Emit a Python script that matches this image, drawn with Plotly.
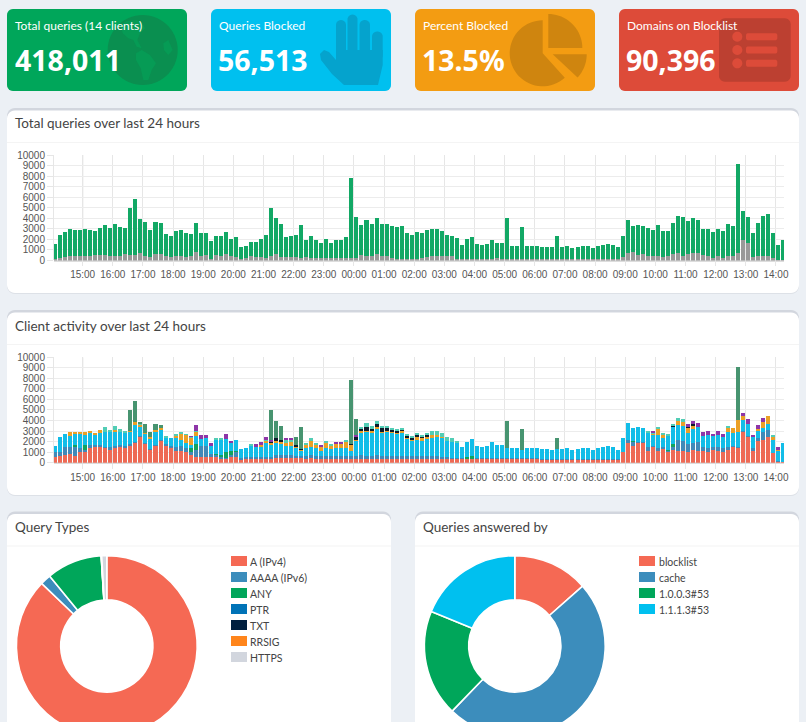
import math
import pandas as pd
import plotly.graph_objects as go

W, H = 806, 760

# ---------- data ----------
STAT_TITLES = ["Total queries (14 clients)", "Queries Blocked", "Percent Blocked", "Domains on Blocklist"]
STAT_VALUES = ["418,011", "56,513", "13.5%", "90,396"]
STAT_COLORS = ["#00a65a", "#00c0ef", "#f39c12", "#dd4b39"]

TOTAL = [
    1600,2400,2700,2950,2850,2900,2950,2900,2750,3100,
    3350,3100,3450,3200,3050,5000,5850,3900,3650,2900,
    3650,3550,2500,2350,2750,2850,2650,2500,3550,2650,
    2600,1850,2350,2300,2700,2050,2200,1300,1400,1800,
    1750,2000,2400,5000,4000,3450,2250,2300,2400,3350,
    1900,2300,1900,1700,2050,1700,1950,1950,2200,7800,
    4100,3400,3800,3500,4000,3500,3500,3300,3150,3300,
    2650,2450,2700,2600,2850,3000,3000,2800,2450,2350,
    2100,1500,2000,2250,1600,1500,1600,1950,1700,1700,
    4000,1400,1350,3150,1400,1350,1350,1300,1300,1250,
    2350,1300,1400,1200,1300,1400,1400,1200,1350,1450,
    1550,1450,1250,2350,3800,3250,3400,3300,3050,2900,
    3400,2750,2750,3600,4250,4100,3700,4000,3800,2950,
    3000,2700,3000,2750,3500,3300,9100,4700,4100,2650,
    3600,4200,4400,2650,1450,1900,
]
BLOCKED = [
    100,250,350,400,400,400,450,450,500,550,
    500,450,450,450,650,500,500,750,450,350,
    600,650,400,350,450,450,300,400,850,450,
    550,150,500,450,650,450,300,150,250,400,
    350,300,250,400,650,350,350,350,350,200,
    350,200,200,200,200,200,200,200,200,200,
    250,500,450,400,600,400,400,200,150,150,
    150,150,150,200,350,450,450,400,400,400,
    150,100,100,100,100,100,100,100,200,100,
    100,100,100,100,100,100,100,100,100,100,
    100,100,100,100,100,100,100,100,100,100,
    100,100,100,350,750,800,500,650,400,400,
    400,350,400,650,700,400,600,750,700,550,
    450,200,400,200,450,400,700,1900,1700,300,
    450,450,450,200,50,50,
]
C_RED = [
    500,600,750,800,650,1050,1000,1350,1450,1450,
    1400,1200,1350,1500,1400,1600,1900,2450,1800,1200,
    1600,2050,1600,1400,1150,1100,1000,700,550,550,
    550,550,550,350,350,550,500,300,350,400,
    400,400,400,350,400,400,400,400,400,400,
    350,400,350,350,350,350,350,350,350,350,
    350,350,350,350,350,350,350,350,350,350,
    350,350,350,350,350,350,350,350,350,350,
    350,350,350,350,350,350,350,350,350,350,
    400,350,350,350,350,350,350,300,300,300,
    300,300,300,300,300,300,300,300,300,300,
    300,300,300,1000,1850,1600,1850,1850,1150,1500,
    1100,1350,1000,1200,1150,1150,1000,1200,1150,1150,
    1000,1250,1150,1050,1250,1500,1400,2900,2450,1100,
    2050,2200,2450,900,100,50,
]
C_BLUE = [
    500,400,700,700,800,300,250,300,250,250,
    100,300,200,150,150,150,100,100,100,100,
    100,100,150,150,350,450,350,350,700,1050,
    1050,300,200,200,100,150,500,100,200,100,
    150,150,100,150,300,300,300,300,250,250,
    300,350,300,300,300,250,300,300,250,300,
    300,350,300,300,350,300,300,250,250,300,
    250,250,250,250,250,250,250,200,150,100,
    100,50,0,0,50,50,50,50,50,50,
    50,50,50,50,50,50,50,50,50,50,
    50,50,50,50,50,50,50,50,50,50,
    50,50,50,50,300,400,150,100,300,100,
    300,100,100,300,1000,900,800,650,850,300,
    400,200,300,300,200,100,50,100,100,300,
    300,700,650,50,50,50,
]
C_GREEN = [
    0,0,0,0,200,0,400,0,0,0,
    0,0,0,0,0,0,0,0,0,0,
    0,0,0,0,0,0,0,300,500,0,
    0,0,100,150,600,400,100,0,0,0,
    0,0,0,0,0,0,0,0,0,0,
    0,0,0,0,0,0,0,0,0,0,
    0,0,0,0,0,0,0,0,0,0,
    0,0,0,0,0,0,0,0,0,0,
    0,0,200,300,0,0,0,0,0,0,
    0,0,0,0,0,0,0,0,0,0,
    0,0,0,0,0,0,0,0,0,0,
    0,0,0,0,0,100,0,0,0,0,
    0,0,150,300,0,0,0,0,0,0,
    0,0,0,0,0,0,0,0,0,0,
    0,0,0,0,0,0,
]
C_CYAN = [
    600,1400,1250,1050,1100,1350,950,1150,950,1100,
    1450,1400,1400,1250,1250,1150,1550,900,800,950,
    1200,950,650,800,900,650,550,300,800,650,
    700,700,1350,1500,1200,800,1100,900,850,1100,
    900,1000,1350,1200,1200,1100,900,850,700,450,
    750,750,700,500,700,700,750,750,800,450,
    1450,2150,2250,2200,2550,2200,2250,2250,2100,2200,
    1700,1450,1600,1500,1650,1750,1800,1850,1600,1550,
    1400,1100,1450,1600,1200,1100,1200,1550,1300,1300,
    950,1000,950,850,1000,950,950,950,950,900,
    950,950,1050,850,950,1050,1050,850,1000,1100,
    1200,1100,900,1300,1650,1150,1400,1350,1400,1000,
    1200,900,1300,1600,1450,1400,1050,1300,1400,1100,
    1200,1100,1150,1100,1500,1250,1500,1050,1150,1000,
    650,400,550,1250,1000,1800,
]
C_ORANGE = [
    0,0,0,350,100,200,350,100,100,300,
    0,0,150,0,0,100,300,100,100,150,
    200,150,0,0,150,500,700,700,350,0,
    0,0,0,0,0,0,0,0,0,0,
    0,150,200,200,200,150,300,400,200,100,
    300,600,350,400,500,300,350,350,600,600,
    100,150,150,150,100,100,100,100,150,150,
    100,150,300,250,250,250,200,50,0,0,
    0,0,0,0,0,0,0,0,0,0,
    0,0,0,0,0,0,0,0,0,0,
    0,0,0,0,0,0,0,0,0,0,
    0,0,0,0,0,0,0,0,0,100,
    600,300,0,0,400,450,500,300,0,0,
    0,0,0,0,300,450,1100,350,0,0,
    150,600,750,300,100,0,
]
C_BLACK = [
    0,0,0,0,0,0,0,0,0,0,
    0,0,0,0,0,0,0,0,0,0,
    0,0,0,0,0,0,0,0,0,0,
    0,0,0,0,0,0,0,0,0,0,
    0,0,0,100,200,200,0,0,100,100,
    0,0,0,0,0,0,0,0,0,100,
    300,200,300,200,300,350,250,150,150,100,
    150,200,100,150,150,0,0,0,0,0,
    0,0,0,0,0,0,0,0,0,0,
    0,0,0,0,0,0,0,0,0,0,
    0,0,0,0,0,0,0,0,0,0,
    0,0,0,0,0,0,0,0,0,0,
    0,0,0,100,0,0,50,200,0,0,
    0,0,0,0,0,0,0,0,0,0,
    0,0,0,0,0,0,
]
C_TEAL = [
    0,0,0,0,0,0,0,0,0,0,
    400,200,350,300,250,0,0,100,0,0,
    0,0,100,0,200,150,50,100,150,0,
    0,0,150,100,0,0,0,0,0,200,
    0,0,100,0,0,0,250,250,0,0,
    200,200,200,0,200,100,0,0,200,0,
    0,200,450,300,350,200,250,200,150,200,
    100,50,100,100,200,400,400,350,350,350,
    250,0,0,0,0,0,0,0,0,0,
    0,0,0,0,0,0,0,0,0,0,
    0,0,0,0,0,0,0,0,0,0,
    0,0,0,0,0,0,0,0,200,100,
    200,100,200,100,250,200,0,0,0,0,
    0,0,0,0,250,0,0,0,0,0,
    0,0,0,150,0,0,
]
C_PURPLE = [
    0,0,0,0,0,0,0,0,0,0,
    0,0,0,0,0,0,0,0,0,0,
    0,0,0,0,0,0,0,50,500,400,
    300,300,0,0,450,150,0,0,0,0,
    300,300,250,200,0,0,100,100,0,0,
    0,0,0,150,0,0,200,200,0,0,
    100,0,0,0,0,0,0,0,0,0,
    0,0,0,0,0,0,0,0,0,0,
    0,0,0,0,0,0,0,0,0,0,
    0,0,0,0,0,0,0,0,0,0,
    0,0,0,0,0,0,0,0,0,0,
    0,0,0,0,0,0,0,0,0,100,
    0,0,0,0,0,0,300,350,400,400,
    400,150,400,300,0,0,0,300,400,250,
    450,300,0,0,200,0,
]
C_SEA = [
    0,0,0,0,0,0,0,0,0,0,
    0,0,0,0,0,2000,2000,250,850,500,
    550,300,0,0,0,0,0,0,0,0,
    0,0,0,0,0,0,0,0,0,0,
    0,0,0,2800,1700,1300,0,0,750,2050,
    0,0,0,0,0,0,0,0,0,6000,
    1500,0,0,0,0,0,0,0,0,0,
    0,0,0,0,0,0,0,0,0,0,
    0,0,0,0,0,0,0,0,0,0,
    2600,0,0,1900,0,0,0,0,0,0,
    1050,0,0,0,0,0,0,0,0,0,
    0,0,0,0,0,0,0,0,0,0,
    0,0,0,0,0,0,0,0,0,0,
    0,0,0,0,0,0,5050,0,0,0,
    0,0,0,0,0,0,
]
CLIENT_LAYERS = [
    ("client 1", C_RED, "#ee6a55"), ("client 2", C_BLUE, "#4189b8"), ("client 3", C_GREEN, "#10a35e"),
    ("client 4", C_CYAN, "#12bde8"), ("client 5", C_ORANGE, "#eba026"), ("client 6", C_BLACK, "#0c1c2c"),
    ("client 7", C_TEAL, "#52cdb5"), ("client 8", C_PURPLE, "#8e35a8"), ("client 9", C_SEA, "#479470"),
]

QT_LABELS = ["A (IPv4)", "AAAA (IPv6)", "ANY", "PTR", "TXT", "RRSIG", "HTTPS"]
QT_VALUES = [87.1, 1.9, 9.9, 0.03, 0.02, 0.05, 0.9]
QT_COLORS = ["#f56954", "#3c8dbc", "#00a65a", "#0073b7", "#001f3f", "#ff851b", "#d2d6de"]
FW_LABELS = ["blocklist", "cache", "1.0.0.3#53", "1.1.1.3#53"]
FW_VALUES = [13.5, 48.7, 19.05, 18.75]
FW_COLORS = ["#f56954", "#3c8dbc", "#00a65a", "#00c0ef"]

TIMES = pd.date_range("2021-05-01 14:05", periods=len(TOTAL), freq="10min")
X0, X1 = "2021-05-01 14:03", "2021-05-02 14:16"

# ---------- helpers ----------
BG = "#ecf0f5"
FONT = "Lato"
AXFONT = "Liberation Sans"


def px(x): return round(x / W, 5)
def py(y): return round(1 - y / H, 5)


def poly(points):
    return "M" + " L".join(f"{px(a)},{py(b)}" for a, b in points) + " Z"


def arc(cx, cy, r, a0, a1, n=24):
    return [(cx + r * math.cos(math.radians(a0 + (a1 - a0) * i / n)),
             cy + r * math.sin(math.radians(a0 + (a1 - a0) * i / n))) for i in range(n + 1)]


def round_pts(x0, y0, x1, y1, r, bottom=True):
    pts = arc(x0 + r, y0 + r, r, 180, 270, 6) + arc(x1 - r, y0 + r, r, 270, 360, 6)
    if bottom:
        pts += arc(x1 - r, y1 - r, r, 0, 90, 6) + arc(x0 + r, y1 - r, r, 90, 180, 6)
    else:
        pts += [(x1, y1), (x0, y1)]
    return pts


shapes, annots = [], []


def add_path(points, color):
    shapes.append(dict(type="path", path=poly(points), xref="paper", yref="paper",
                       fillcolor=color, line=dict(width=0), layer="below"))


def add_text(x, y, text, size, color="#444444", bold=False, family=FONT):
    annots.append(dict(x=px(x), y=py(y), xref="paper", yref="paper", text=f"<b>{text}</b>" if bold else text,
                       showarrow=False, xanchor="left", yanchor="middle", borderpad=0,
                       font=dict(family=family, size=size, color=color)))


# page background & stat boxes
STAT_BOXES = [(7, 187), (211, 391), (415, 595), (619, 799)]
for (a, b), c, t, v in zip(STAT_BOXES, STAT_COLORS, STAT_TITLES, STAT_VALUES):
    add_path(round_pts(a, 9, b, 91, 6), c)

# globe icon
add_path(arc(142.7, 50, 35, 0, 360, 60), "#0a8f50")
LAND = "#069b55"
add_path([(120.7, 25), (126.7, 21), (136.7, 20), (141.7, 22.3), (145, 28.3), (140, 33.3), (137.3, 40),
          (141.7, 48.3), (136.7, 46.7), (133.3, 40), (128.3, 38.3), (122.7, 33.3)], LAND)
add_path([(136, 53.3), (141.7, 50), (150, 55), (156, 63.3), (151.7, 70), (148.3, 80), (143.3, 80),
          (140.7, 68.3), (136, 60)], LAND)
add_path([(163.3, 43.3), (168.3, 40), (172.7, 50), (168.3, 55), (164, 50)], LAND)

# hand icon
HAND = "#05a3cd"
add_path(round_pts(336, 20, 346, 60, 5), HAND)
add_path(round_pts(347.5, 14.5, 357.5, 60, 5), HAND)
add_path(round_pts(359.5, 20, 370, 60, 5), HAND)
add_path(round_pts(372, 31.5, 382.7, 60, 5), HAND)
add_path([(336, 50), (382.7, 50), (382.7, 65), (378, 85), (344, 85), (332, 74), (321, 60), (320, 54),
          (324, 50), (329, 52), (336, 60)], HAND)

# pie icon
PIEC = "#cf850f"
add_path([(542.7, 53.3)] + arc(542.7, 53.3, 33, 270, 48, 40), PIEC)
add_path([(548.3, 48)] + arc(548.3, 48, 34, 270, 360, 20), PIEC)
add_path([(552.7, 54.3), (586.7, 54.3)] + arc(552.7, 54.3, 34, 0, 43, 12), PIEC)

# list icon
add_path(round_pts(719, 18.3, 790.7, 81.7, 6), "#bc4031")
for cy in (36.7, 50, 63.3):
    add_path(arc(737.3, cy, 5, 0, 360, 24), "#dd4b39")
    add_path(round_pts(746, cy - 3.5, 777.3, cy + 3.5, 2), "#dd4b39")

for (a, b), t, v in zip(STAT_BOXES, STAT_TITLES, STAT_VALUES):
    add_text(a + 7, 26, t, 12, "#ffffff")
    add_text(a + 6.5, 60, v, 28.5, "#ffffff", bold=True, family="Noto Sans")

# panels
PANELS = [
    (7, 108, 799, 293, "Total queries over last 24 hours"),
    (7, 310, 799, 495, "Client activity over last 24 hours"),
    (7, 511.5, 391, 780, "Query Types"),
    (415, 511.5, 799, 780, "Queries answered by"),
]
for x0, y0, x1, y1, title in PANELS:
    add_path(round_pts(x0, y0 + 1, x1, y1 + 1, 8), "#dde1e7")
    add_path(round_pts(x0, y0, x1, y1, 8), "#d2d6de")
    add_path(round_pts(x0, y0 + 2.5, x1, y1, 8), "#ffffff")
    add_path([(x0, y0 + 34), (x1, y0 + 34), (x1, y0 + 35), (x0, y0 + 35)], "#f4f4f4")
    add_text(x0 + 7, y0 + 15.5, title, 13.5)

# legends
for labels, colors, sx, tx in ((QT_LABELS, QT_COLORS, 231, 249.5), (FW_LABELS, FW_COLORS, 639, 657.8)):
    for i, (lab, col) in enumerate(zip(labels, colors)):
        add_path([(sx, 556 + 16 * i), (sx + 16, 556 + 16 * i), (sx + 16, 566 + 16 * i), (sx, 566 + 16 * i)], col)
        add_text(tx, 562 + 16 * i, lab, 10.5)

# ---------- figure ----------
fig = go.Figure()
BAR_W = 480000


def bar(y, color, name, xa, ya):
    fig.add_trace(go.Bar(x=TIMES, y=y, name=name, marker=dict(color=color, line=dict(width=0)),
                         width=BAR_W, xaxis=xa, yaxis=ya, showlegend=False))


PERMITTED = [t - b for t, b in zip(TOTAL, BLOCKED)]
bar(BLOCKED, "#999999", "Blocked", "x", "y")
bar(PERMITTED, "#12a865", "Permitted", "x", "y")
for name, vals, col in CLIENT_LAYERS:
    bar(vals, col, name, "x2", "y2")

DOMX = [px(54), px(784)]
axis_x = dict(type="date", range=[X0, X1], domain=DOMX, tickformat="%H:%M",
              tick0="2021-05-01 15:00", dtick=3600000, showgrid=True, gridcolor="#e6e6e6", gridwidth=1,
              ticks="outside", ticklen=5, tickcolor="#e6e6e6", showline=False, zeroline=False,
              tickfont=dict(family=AXFONT, size=10, color="#555555"))
axis_y = dict(range=[0, 10000], dtick=1000, tickformat="d", showgrid=True, gridcolor="#ececec", gridwidth=1,
              ticks="outside", ticklen=6, tickcolor="#e6e6e6", showline=True, linecolor="#e6e6e6",
              zeroline=True, zerolinecolor="#dddddd", tickfont=dict(family=AXFONT, size=10, color="#555555"))

fig.update_layout(
    width=W, height=H, margin=dict(l=0, r=0, t=0, b=0, autoexpand=False), paper_bgcolor=BG,
    plot_bgcolor="rgba(0,0,0,0)", barmode="stack", showlegend=False, shapes=shapes, annotations=annots,
    xaxis=dict(axis_x, anchor="y"),
    yaxis=dict(axis_y, anchor="x", domain=[py(260.5), py(155)]),
    xaxis2=dict(axis_x, anchor="y2"),
    yaxis2=dict(axis_y, anchor="x2", domain=[py(462.7), py(357.3)]),
)

# darker first-hour gridline
for xr, yr in (("x", "y"), ("x2", "y2")):
    fig.add_shape(type="line", x0="2021-05-01 15:00", x1="2021-05-01 15:00", y0=0, y1=10000, xref=xr, yref=yr,
                  line=dict(color="#bdbdbd", width=1), layer="below")

R = 90.4
for cx, labels, vals, cols, name in ((106.8, QT_LABELS, QT_VALUES, QT_COLORS, "Query Types"),
                                     (514.8, FW_LABELS, FW_VALUES, FW_COLORS, "Queries answered by")):
    fig.add_trace(go.Pie(labels=labels, values=vals, name=name, hole=0.51, sort=False, direction="clockwise", rotation=0,
                         marker=dict(colors=cols, line=dict(color="#ffffff", width=1.6)), textinfo="none",
                         domain=dict(x=[px(cx - R), px(cx + R)], y=[py(646 + R), py(646 - R)]), showlegend=False))

fig.write_html("out.html", config=dict(displayModeBar=False),
               post_script="document.documentElement.style.overflow='hidden';document.body.style.margin='0';document.body.style.overflow='hidden';")
